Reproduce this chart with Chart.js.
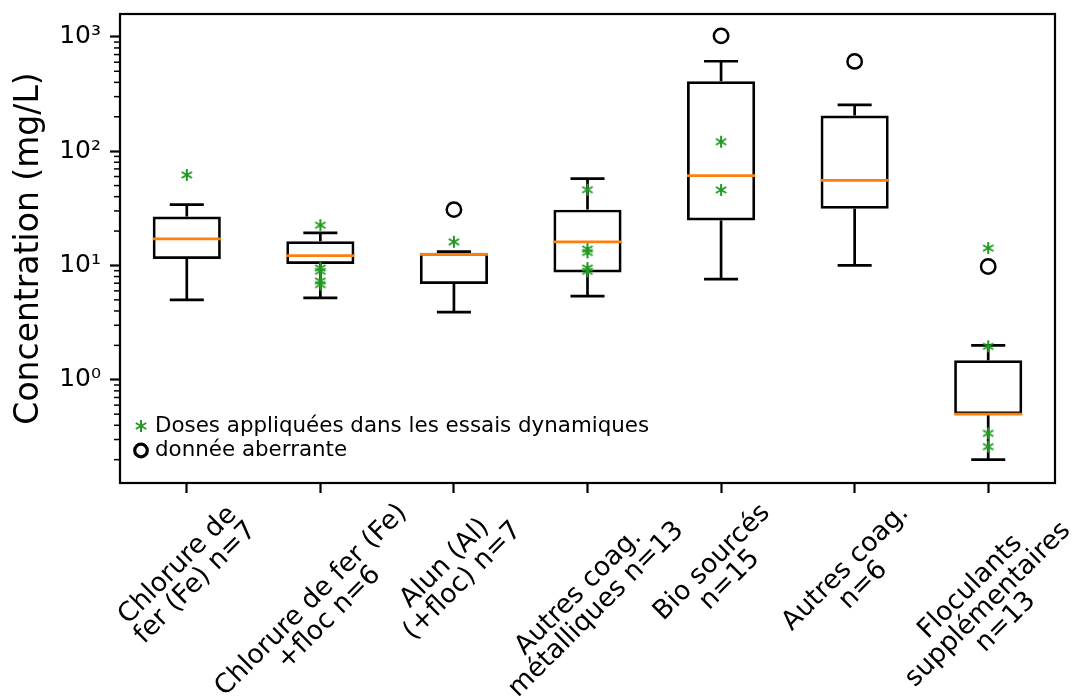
<!DOCTYPE html>
<html>
<head>
<meta charset="utf-8">
<script src="https://cdn.jsdelivr.net/npm/chart.js@4/dist/chart.umd.min.js"></script>
<style>
  html, body { margin: 0; padding: 0; background: #fff; }
  canvas { display: block; }
</style>
</head>
<body>
<canvas id="boxChart" width="1073" height="700"></canvas>
<script>
// catégories (une ligne par élément pour les étiquettes tournées)
const categories = [
  ["Chlorure de", "fer (Fe) n=7"],
  ["Chlorure de fer (Fe)", "+floc n=6"],
  ["Alun (Al)", "(+floc) n=7"],
  ["Autres coag.", "métalliques n=13"],
  ["Bio sourcés", "n=15"],
  ["Autres coag.", "n=6"],
  ["Floculants", "supplémentaires", "n=13"]
];

// statistiques des boîtes (mg/L)
const whiskerLow  = [5.0, 5.2, 3.9, 5.4, 7.6, 10.0, 0.2];
const q1          = [11.4, 10.3, 6.9, 8.7, 24.8, 31.4, 0.5];
const medians     = [17.1, 12.2, 12.5, 16.1, 61, 55.6, 0.5];
const q3          = [26.8, 16.3, 12.9, 30.8, 409, 205, 1.48];
const whiskerHigh = [34, 19.3, 13.2, 57.5, 612, 254, 2.0];

// données aberrantes
const outlierCat = [2, 4, 5, 6];
const outlierVal = [30.8, 1020, 610, 9.8];

// doses appliquées dans les essais dynamiques
const doseCat = [0, 1, 1, 1, 1, 1, 2, 3, 3, 3, 3, 3, 4, 4, 6, 6, 6, 6];
const doseVal = [62, 22.5, 9.5, 8.9, 7.3, 6.8, 16.1, 46, 13.9, 13.0, 9.5, 8.9, 121, 45.8, 14.2, 1.96, 0.34, 0.26];

// axe y
const yMajorTicks = [1, 10, 100, 1000];
const yTickLabels = ["10⁰", "10¹", "10²", "10³"];

const FONT = "'DejaVu Sans', 'Liberation Sans', sans-serif";
const GREEN = '#229a22';
const ORANGE = '#ff7f0e';
const LW = 2.7;

const keys = categories.map(l => l.join(' '));

function makeAsterisk(size, color, lw) {
  const c = document.createElement('canvas');
  c.width = c.height = size;
  const g = c.getContext('2d');
  g.strokeStyle = color;
  g.lineWidth = lw;
  const m = size / 2, r = size / 2 - 1;
  for (let k = 0; k < 3; k++) {
    const a = Math.PI / 2 + k * Math.PI / 3;
    g.beginPath();
    g.moveTo(m + r * Math.cos(a), m + r * Math.sin(a));
    g.lineTo(m - r * Math.cos(a), m - r * Math.sin(a));
    g.stroke();
  }
  return c;
}
const asterisk = makeAsterisk(14, GREEN, 2);

// moustaches, médianes, cadre, étiquettes, légende
const boxExtras = {
  id: 'boxExtras',
  beforeDatasetsDraw(chart) {
    const { ctx, scales: { x, y } } = chart;
    const meta = chart.getDatasetMeta(0);
    ctx.save();
    ctx.strokeStyle = '#000';
    ctx.lineWidth = LW;
    const seg = (x1, y1, x2, y2) => { ctx.beginPath(); ctx.moveTo(x1, y1); ctx.lineTo(x2, y2); ctx.stroke(); };
    keys.forEach((k, i) => {
      const px = x.getPixelForValue(i);
      const half = meta.data[i].width / 4;
      const yl = y.getPixelForValue(whiskerLow[i]);
      const yh = y.getPixelForValue(whiskerHigh[i]);
      seg(px, y.getPixelForValue(q1[i]), px, yl);
      seg(px, y.getPixelForValue(q3[i]), px, yh);
      seg(px - half, yl, px + half, yl);
      seg(px - half, yh, px + half, yh);
    });
    ctx.restore();
  },
  afterDatasetDraw(chart, args) {
    if (args.index !== 0) return;
    const { ctx, scales: { x, y } } = chart;
    const meta = chart.getDatasetMeta(0);
    ctx.save();
    ctx.strokeStyle = ORANGE;
    ctx.lineWidth = LW;
    medians.forEach((v, i) => {
      const px = x.getPixelForValue(i);
      const half = meta.data[i].width / 2;
      const py = y.getPixelForValue(v);
      ctx.beginPath(); ctx.moveTo(px - half, py); ctx.lineTo(px + half, py); ctx.stroke();
    });
    ctx.restore();
  },
  afterDraw(chart) {
    const { ctx, chartArea: a, scales: { x, y } } = chart;
    ctx.save();
    // cadre
    ctx.strokeStyle = '#000';
    ctx.lineWidth = 2.2;
    ctx.strokeRect(a.left, a.top, a.right - a.left, a.bottom - a.top);
    // graduations mineures
    ctx.lineWidth = 1.5;
    for (let e = -1; e <= 3; e++) {
      for (let m = 2; m <= 9; m++) {
        const v = m * Math.pow(10, e);
        if (v < y.min || v > y.max) continue;
        const py = y.getPixelForValue(v);
        ctx.beginPath(); ctx.moveTo(a.left - 6, py); ctx.lineTo(a.left, py); ctx.stroke();
      }
    }
    // étiquettes x tournées à 45° : boîte tournée centrée sous la graduation
    ctx.fillStyle = '#000';
    ctx.font = "26.5px " + FONT;
    ctx.textAlign = 'center';
    ctx.textBaseline = 'middle';
    const lh = 25, top = a.bottom + 17, c = Math.SQRT1_2;
    categories.forEach((lines, i) => {
      const w = Math.max(...lines.map(t => ctx.measureText(t).width));
      const h = lines.length * lh;
      const side = (w + h) * c;
      const cx = x.getPixelForValue(i), cy = top + side / 2;
      ctx.save();
      ctx.translate(cx, cy);
      ctx.rotate(-Math.PI / 4);
      lines.forEach((t, j) => ctx.fillText(t, 0, (j + 0.5) * lh - h / 2));
      ctx.restore();
    });
    // légende
    const lx = a.left + 21;
    ctx.drawImage(asterisk, lx - 7, a.bottom - 57 - 7);
    ctx.beginPath();
    ctx.lineWidth = 3.2;
    ctx.arc(lx, a.bottom - 32.5, 6.3, 0, Math.PI * 2);
    ctx.stroke();
    ctx.font = "21.4px " + FONT;
    ctx.textAlign = 'left';
    ctx.fillText('Doses appliquées dans les essais dynamiques', a.left + 35, a.bottom - 57);
    ctx.fillText('donnée aberrante', a.left + 35, a.bottom - 33);
    ctx.restore();
  }
};

new Chart(document.getElementById('boxChart'), {
  type: 'bar',
  data: {
    labels: keys,
    datasets: [
      {
        type: 'bar',
        data: q1.map((v, i) => [v, q3[i]]),
        backgroundColor: 'rgba(0,0,0,0)',
        borderColor: '#000',
        borderWidth: LW,
        borderSkipped: false,
        barPercentage: 0.51,
        categoryPercentage: 1,
        order: 2
      },
      {
        type: 'line',
        data: outlierVal.map((v, i) => ({ x: keys[outlierCat[i]], y: v })),
        showLine: false,
        pointStyle: 'circle',
        pointRadius: 7.2,
        pointBorderWidth: 2.5,
        pointBorderColor: '#000',
        pointBackgroundColor: 'rgba(0,0,0,0)',
        order: 1
      },
      {
        type: 'line',
        data: doseVal.map((v, i) => ({ x: keys[doseCat[i]], y: v })),
        showLine: false,
        pointStyle: asterisk,
        pointRadius: 7,
        order: 0
      }
    ]
  },
  options: {
    responsive: false,
    animation: false,
    devicePixelRatio: 1,
    layout: { padding: { top: 14, right: 18, left: 0, bottom: 0 } },
    plugins: { legend: { display: false }, tooltip: { enabled: false } },
    scales: {
      x: {
        type: 'category',
        offset: true,
        grid: { offset: false, drawOnChartArea: false, drawTicks: true, tickLength: 10, tickColor: '#000', tickWidth: 2.2 },
        border: { display: false },
        ticks: { display: false },
        afterFit: s => { s.height = 217; }
      },
      y: {
        type: 'logarithmic',
        min: 0.125,
        max: 1585,
        bounds: 'data',
        afterBuildTicks: s => { s.ticks = yMajorTicks.map(v => ({ value: v })); },
        grid: { drawOnChartArea: false, drawTicks: true, tickLength: 10, tickColor: '#000', tickWidth: 2.2 },
        border: { display: false },
        ticks: {
          autoSkip: false,
          padding: 9,
          color: '#000',
          font: { family: FONT, size: 25, lineHeight: 0.4 },
          callback: (v, i) => yTickLabels[i]
        },
        title: {
          display: true,
          text: 'Concentration (mg/L)',
          color: '#000',
          font: { family: FONT, size: 33 },
          padding: { top: 10, bottom: 0 }
        },
        afterFit: s => { s.width = 120; }
      }
    }
  },
  plugins: [boxExtras]
});
</script>
</body>
</html>
